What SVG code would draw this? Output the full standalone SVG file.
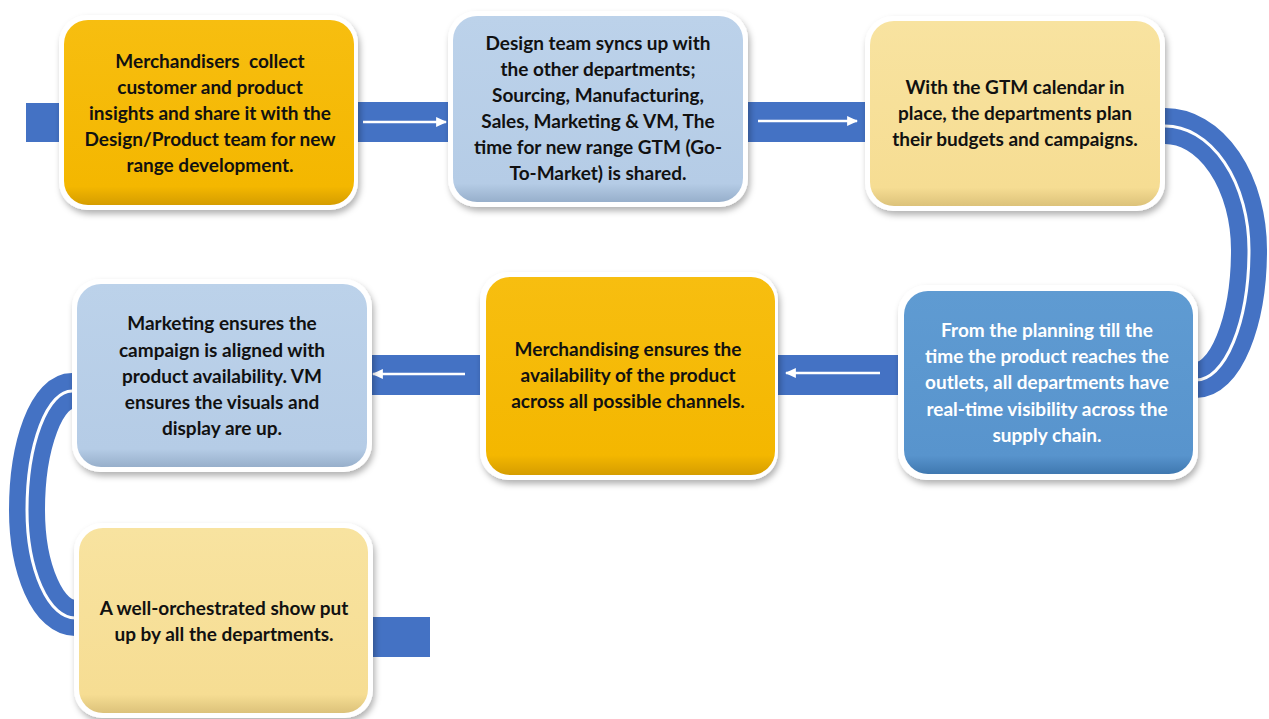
<svg xmlns="http://www.w3.org/2000/svg" width="1269" height="719" viewBox="0 0 1269 719">
<defs>
<style>
.bar{fill:#4472C4}
.band{fill:none;stroke:#4472C4;stroke-width:36}
.bandline{fill:none;stroke:#FFFFFF;stroke-width:3}
.arr{stroke:#FFFFFF;stroke-width:2.5;fill:none;marker-end:url(#ah)}
.frame{fill:#FFFFFF;filter:url(#sh)}
.t{font-family:Lato,"Liberation Sans",sans-serif;font-weight:700;font-size:19px;text-anchor:middle;fill:#111111;white-space:pre}
.tw{fill:#FFFFFF}
</style>
<filter id="sh" x="-10%" y="-10%" width="125%" height="130%">
<feDropShadow dx="2" dy="4" stdDeviation="3" flood-color="#000000" flood-opacity="0.3"/>
</filter>
<linearGradient id="gOr" x1="0" y1="0" x2="0" y2="1">
<stop offset="0" stop-color="#F7BE10"/>
<stop offset="0.9" stop-color="#F4B700"/>
<stop offset="1" stop-color="#D59D00"/>
</linearGradient>
<linearGradient id="gLb" x1="0" y1="0" x2="0" y2="1">
<stop offset="0" stop-color="#BCD2EA"/>
<stop offset="0.9" stop-color="#B5CCE6"/>
<stop offset="1" stop-color="#97AFCB"/>
</linearGradient>
<linearGradient id="gYl" x1="0" y1="0" x2="0" y2="1">
<stop offset="0" stop-color="#F8E3A0"/>
<stop offset="0.9" stop-color="#F6DD93"/>
<stop offset="1" stop-color="#DCC27A"/>
</linearGradient>
<linearGradient id="gMb" x1="0" y1="0" x2="0" y2="1">
<stop offset="0" stop-color="#5F9BD2"/>
<stop offset="0.9" stop-color="#5894CD"/>
<stop offset="1" stop-color="#3F78B0"/>
</linearGradient>
<marker id="ah" viewBox="0 0 10 9" refX="9" refY="4.5" markerWidth="11" markerHeight="10" markerUnits="userSpaceOnUse" orient="auto">
<path d="M0,0 L10,4.5 L0,9 z" fill="#FFFFFF"/>
</marker>
</defs>
<rect width="1269" height="719" fill="#FFFFFF"/>
<g id="connectors">
<rect class="bar" x="26" y="103" width="45" height="39"/>
<rect class="bar" x="350" y="102" width="105" height="40"/>
<rect class="bar" x="740" y="102" width="132" height="40"/>
<rect class="bar" x="770" y="355" width="136" height="40"/>
<rect class="bar" x="365" y="355" width="122" height="40"/>
<rect class="bar" x="365" y="617" width="65" height="40"/>
<path class="band" d="M1120 126 L1165 126 A84 124 0 0 1 1249 250 A53 130 0 0 1 1196 380 L1160 380"/>
<path class="bandline" d="M1120 126 L1165 126 A84 124 0 0 1 1249 250 A53 130 0 0 1 1196 380 L1160 380"/>
<path class="band" d="M120 391 L72 391 A45 119 0 0 0 27 510 A48 108 0 0 0 75 618 L120 618"/>
<path class="bandline" d="M120 391 L72 391 A45 119 0 0 0 27 510 A48 108 0 0 0 75 618 L120 618"/>
<line class="arr" x1="363" y1="122" x2="446" y2="122"/>
<line class="arr" x1="758" y1="121" x2="857" y2="121"/>
<line class="arr" x1="880" y1="373" x2="786" y2="373"/>
<line class="arr" x1="465" y1="374" x2="373" y2="374"/>
</g>
<g id="node1">
<rect class="frame" x="59" y="15" width="299" height="195" rx="28"/>
<rect x="64" y="20" width="290" height="185" rx="24" fill="url(#gOr)"/>
<text class="t"><tspan x="210" y="68">Merchandisers  collect</tspan><tspan x="210" y="94">customer and product</tspan><tspan x="210" y="120">insights and share it with the</tspan><tspan x="210" y="146">Design/Product team for new</tspan><tspan x="210" y="172">range development.</tspan></text>
</g>
<g id="node2">
<rect class="frame" x="448" y="11" width="300" height="196" rx="28"/>
<rect x="453" y="16" width="290" height="186" rx="24" fill="url(#gLb)"/>
<text class="t"><tspan x="598" y="50">Design team syncs up with</tspan><tspan x="598" y="76">the other departments;</tspan><tspan x="598" y="102">Sourcing, Manufacturing,</tspan><tspan x="598" y="128">Sales, Marketing &amp; VM, The</tspan><tspan x="598" y="154">time for new range GTM (Go-</tspan><tspan x="598" y="180">To-Market) is shared.</tspan></text>
</g>
<g id="node3">
<rect class="frame" x="865" y="16" width="300" height="195" rx="28"/>
<rect x="870" y="21" width="290" height="185" rx="24" fill="url(#gYl)"/>
<text class="t"><tspan x="1015" y="94">With the GTM calendar in</tspan><tspan x="1015" y="120">place, the departments plan</tspan><tspan x="1015" y="146">their budgets and campaigns.</tspan></text>
</g>
<g id="node4">
<rect class="frame" x="898" y="285" width="300" height="195" rx="28"/>
<rect x="904" y="291" width="289" height="183" rx="24" fill="url(#gMb)"/>
<text class="t tw"><tspan x="1047" y="337">From the planning till the</tspan><tspan x="1047" y="363">time the product reaches the</tspan><tspan x="1047" y="389">outlets, all departments have</tspan><tspan x="1047" y="416">real-time visibility across the</tspan><tspan x="1047" y="442">supply chain.</tspan></text>
</g>
<g id="node5">
<rect class="frame" x="480" y="272" width="298" height="208" rx="28"/>
<rect x="486" y="277" width="289" height="198" rx="24" fill="url(#gOr)"/>
<text class="t"><tspan x="628" y="356">Merchandising ensures the</tspan><tspan x="628" y="382">availability of the product</tspan><tspan x="628" y="408">across all possible channels.</tspan></text>
</g>
<g id="node6">
<rect class="frame" x="72" y="279" width="300" height="193" rx="28"/>
<rect x="77" y="284" width="290" height="183" rx="24" fill="url(#gLb)"/>
<text class="t"><tspan x="222" y="330">Marketing ensures the</tspan><tspan x="222" y="357">campaign is aligned with</tspan><tspan x="222" y="383">product availability. VM</tspan><tspan x="222" y="409">ensures the visuals and</tspan><tspan x="222" y="435">display are up.</tspan></text>
</g>
<g id="node7">
<rect class="frame" x="74" y="523" width="299" height="195" rx="28"/>
<rect x="79" y="528" width="289" height="185" rx="24" fill="url(#gYl)"/>
<text class="t"><tspan x="224" y="615">A well-orchestrated show put</tspan><tspan x="224" y="641">up by all the departments.</tspan></text>
</g>
</svg>
